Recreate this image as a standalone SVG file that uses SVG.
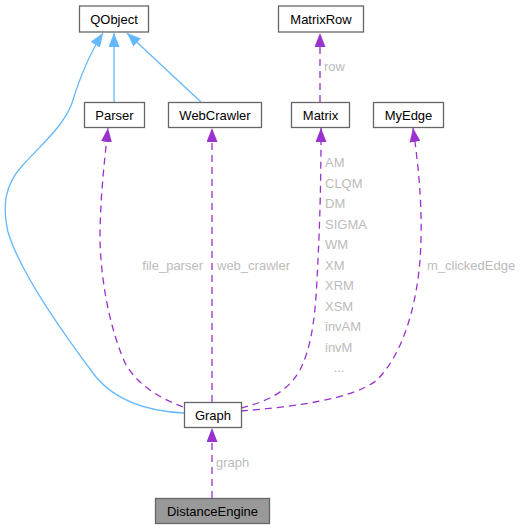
<svg xmlns="http://www.w3.org/2000/svg" width="525" height="530" viewBox="0 0 525 530">
<style>
.node rect{fill:#fff;stroke:#666;stroke-width:1.3}
.node text{font-family:"Liberation Sans",Arial,sans-serif;font-size:13px;fill:#000;text-anchor:middle}
.inh{fill:none;stroke:#63B8FF;stroke-width:1.3}
.use{fill:none;stroke:#9A32CD;stroke-width:1.3;stroke-dasharray:7,5}
.lbl{font-family:"Liberation Sans",Arial,sans-serif;font-size:13px;fill:#BBBBBB}
</style>
<defs>
<marker id="ab" viewBox="0 0 14 11" refX="14" refY="5.5" markerWidth="14" markerHeight="11" markerUnits="userSpaceOnUse" orient="auto"><path d="M0,0 L14,5.5 L0,11 z" fill="#63B8FF"/></marker>
<marker id="ap" viewBox="0 0 14 11" refX="14" refY="5.5" markerWidth="14" markerHeight="11" markerUnits="userSpaceOnUse" orient="auto"><path d="M0,0 L14,5.5 L0,11 z" fill="#9A32CD"/></marker>
</defs>
<rect width="525" height="530" fill="#fff"/>
<g id="edges">
<path class="inh" d="M114,102 L114,33" marker-end="url(#ab)"/>
<path class="inh" d="M201,102 L127,33" marker-end="url(#ab)"/>
<path class="inh" d="M184,413 C140,411 112,396 96,377 C62,332 20,272 8,232 C2,205 5,185 22,166 C45,141 64,125 72,103 C79,80 88,56 103,33" marker-end="url(#ab)"/>
<path class="use" d="M320,102 L320,33" marker-end="url(#ap)"/>
<path class="use" d="M183,407 C160,398 140,387 126,365 C110,330 101,282 100,240 C100,200 104,165 108,128" marker-end="url(#ap)"/>
<path class="use" d="M212,402 L212,128" marker-end="url(#ap)"/>
<path class="use" d="M241,408 C265,402 287,393 300,370 C311,348 315,320 317,280 C319,240 321,200 321,128" marker-end="url(#ap)"/>
<path class="use" d="M241,411 C290,407 352,400 377,380 C405,352 417,300 420,260 C423,220 420,175 413,128" marker-end="url(#ap)"/>
<path class="use" d="M212,498 L212,428" marker-end="url(#ap)"/>
<text class="lbl" x="324" y="71">row</text>
<text class="lbl" x="203" y="270" text-anchor="end">file_parser</text>
<text class="lbl" x="217" y="270">web_crawler</text>
<text class="lbl" x="427" y="270">m_clickedEdge</text>
<text class="lbl" x="216" y="467">graph</text>
<text class="lbl" x="325" y="167">AM</text>
<text class="lbl" x="325" y="187.5">CLQM</text>
<text class="lbl" x="325" y="208">DM</text>
<text class="lbl" x="325" y="228.5">SIGMA</text>
<text class="lbl" x="325" y="249">WM</text>
<text class="lbl" x="325" y="269.5">XM</text>
<text class="lbl" x="325" y="290">XRM</text>
<text class="lbl" x="325" y="310.5">XSM</text>
<text class="lbl" x="325" y="331">invAM</text>
<text class="lbl" x="325" y="351.5">invM</text>
<text class="lbl" x="339" y="372" text-anchor="middle">...</text>
</g>
<g id="QObject" class="node"><rect x="79.5" y="6" width="69" height="26"/><text x="114" y="23.5">QObject</text></g>
<g id="MatrixRow" class="node"><rect x="278.5" y="6" width="85" height="26"/><text x="321" y="23.5">MatrixRow</text></g>
<g id="Parser" class="node"><rect x="84.5" y="102.5" width="60" height="25"/><text x="114.5" y="119.5">Parser</text></g>
<g id="WebCrawler" class="node"><rect x="168.5" y="102.5" width="93" height="25"/><text x="215" y="119.5">WebCrawler</text></g>
<g id="Matrix" class="node"><rect x="291.5" y="102.5" width="58" height="25"/><text x="320.5" y="119.5">Matrix</text></g>
<g id="MyEdge" class="node"><rect x="373.5" y="102.5" width="70" height="25"/><text x="408.5" y="119.5">MyEdge</text></g>
<g id="Graph" class="node"><rect x="184.5" y="402.5" width="57" height="25"/><text x="213" y="419.5">Graph</text></g>
<g id="DistanceEngine" class="node"><rect x="155.5" y="498.5" width="114" height="25" style="fill:#999"/><text x="212.5" y="515.5">DistanceEngine</text></g>
</svg>
